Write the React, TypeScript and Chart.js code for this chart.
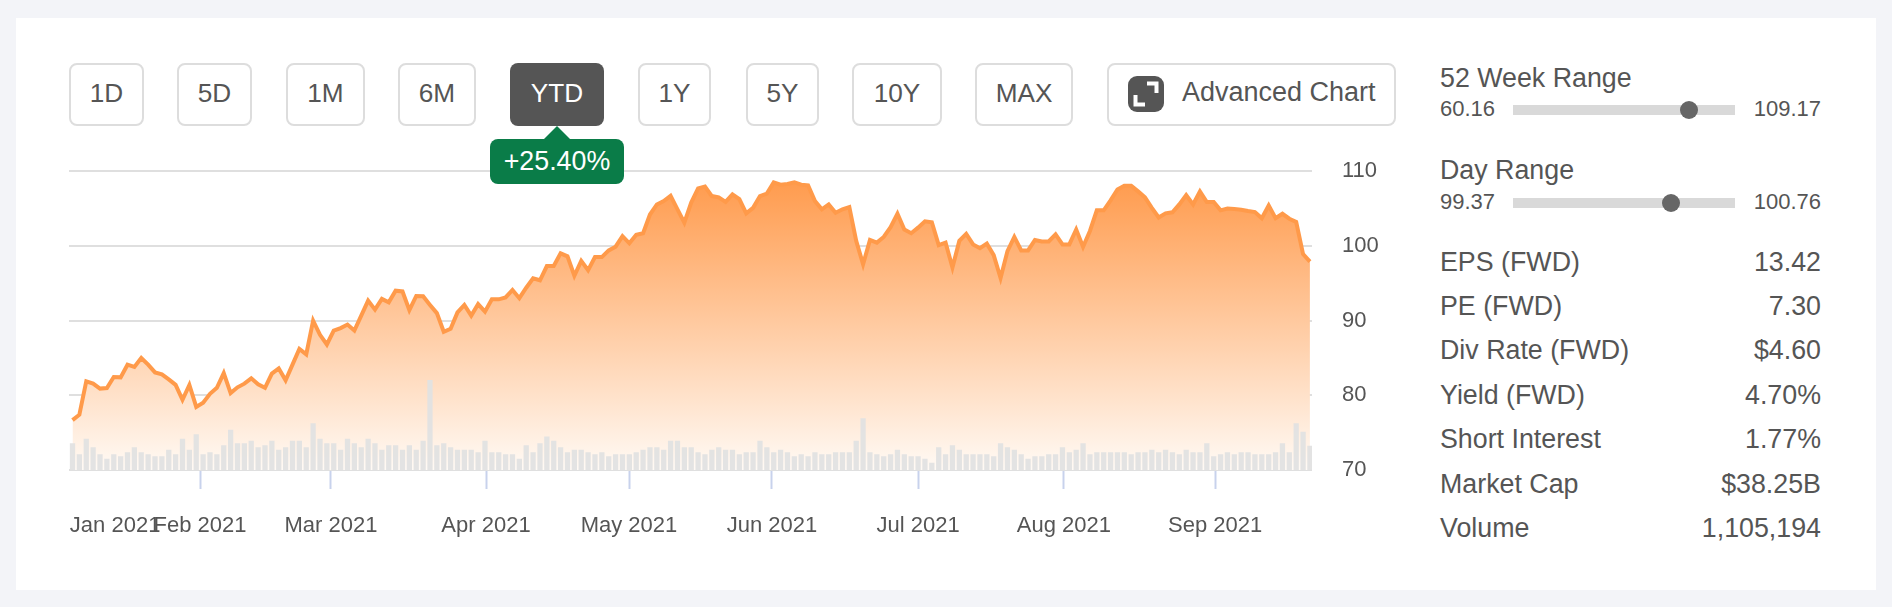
import React, { useEffect, useRef } from "react";
import { Chart, registerables } from "chart.js";

Chart.register(...registerables);

const prices = [
  76.67, 77.4, 81.87, 81.56, 80.9, 80.98, 82.45, 82.4, 84.1, 83.8, 85.0, 84.1, 83.07, 82.8, 82.13, 81.4, 79.4, 81.38, 78.45, 79.0,
  80.2, 81.0, 82.98, 80.3, 81.07, 81.56, 82.27, 81.47, 81.0, 82.9, 83.6, 82.0, 84.1, 86.2, 85.47, 90.0, 88.1, 86.8, 88.67, 89.0,
  89.47, 88.67, 90.67, 92.67, 91.47,
  92.9, 92.45, 94.0, 93.9, 91.4, 93.3, 93.25, 92.1, 91.0, 88.5, 88.9, 91.1, 92.1, 90.67, 92.2, 91.2, 92.85, 92.85, 93.1, 94.1,
  93.0, 94.4, 95.65, 95.4, 97.3, 97.3, 99.0, 98.6, 96.0, 98.0, 96.75, 98.5, 98.5, 99.4, 99.9, 101.3, 100.35, 101.5, 101.7, 104.2,
  105.55, 106.0, 106.7, 104.9, 103.1, 105.8, 107.7,
  107.95, 106.67, 106.5, 105.9, 106.9, 106.27, 104.36, 105.1, 106.67, 107.0, 108.5, 108.2, 108.3, 108.5, 108.2, 108.1, 106.0, 104.9, 105.55,
  104.44, 104.9, 105.2, 100.67, 97.55, 100.8, 100.44, 101.2, 102.5, 104.3, 102.2, 101.7, 102.44, 103.3, 103.16, 100.1, 100.44, 97.1, 100.67, 101.6,
  100.2, 99.7, 100.3, 98.76, 95.7,
  99.3, 101.2, 99.4, 99.4, 100.8, 100.6, 100.6, 101.55, 100.2, 100.2, 102.2, 99.87, 102.0, 104.76, 104.76, 106.1, 107.55, 108.04, 108.04, 107.3,
  106.5, 105.1, 103.8, 104.36, 104.5, 105.55, 106.8, 105.55, 107.3, 105.87, 105.87, 104.76, 105.0, 104.93, 104.84, 104.67, 104.53, 103.7, 105.4, 103.7,
  104.3, 103.64, 103.2, 98.9, 97.9,
];

const volumes = [
  1.33, 0.78, 1.55, 1.12, 0.78, 0.55, 0.78, 0.67, 0.88, 1.12, 0.88, 0.78, 0.67, 0.67, 1.0, 0.78, 1.55, 1.0, 1.78, 0.78,
  0.88, 0.78, 1.22, 2.0, 1.33, 1.33, 1.45, 1.12, 1.22, 1.45, 1.0, 1.12, 1.45, 1.45, 1.12, 2.33, 1.55, 1.33, 1.33, 1.0,
  1.55, 1.33, 1.12, 1.55, 1.33, 1.0, 1.22, 1.22, 1.0, 1.22, 1.0, 1.45, 4.5, 1.22, 1.33, 1.12, 1.0, 1.0, 1.0, 0.88,
  1.45, 0.88, 0.88, 0.78, 0.78, 0.55, 1.22, 0.88, 1.33, 1.67, 1.45, 1.12, 0.88, 1.0, 1.0, 0.88, 0.78,
  0.88, 0.67, 0.78, 0.78, 0.78, 0.88, 1.0, 1.12, 1.12, 1.0, 1.45, 1.45, 1.12, 1.12, 0.88, 0.78, 1.0, 1.12, 1.0, 1.0,
  0.78, 0.88, 0.88, 1.45, 1.12, 0.88, 1.0, 0.88, 0.67, 0.78, 0.67, 0.88, 0.78, 0.78, 0.88, 0.88, 0.88, 1.45, 2.58, 0.88,
  0.78, 0.67, 0.78, 1.0, 0.78, 0.67, 0.67, 0.55, 0.35, 1.12, 0.78, 1.22, 1.0, 0.78, 0.78, 0.78, 0.78, 0.67, 1.33, 1.12,
  1.0, 0.78, 0.55, 0.67, 0.67, 0.78, 0.78, 1.12, 0.88, 1.0, 1.33, 0.78, 0.88, 0.88, 0.88, 0.88, 0.88, 0.78, 0.88,
  0.88, 1.0, 0.88, 1.0, 0.88, 0.78, 1.0, 0.88, 0.88, 1.33, 0.67, 0.78, 0.88, 0.78, 0.88, 0.88, 0.78, 0.78, 0.78, 0.88,
  1.33, 0.88, 2.33, 1.9, 1.2,
];

const monthLabels = ["Jan 2021", "Feb 2021", "Mar 2021", "Apr 2021", "May 2021", "Jun 2021", "Jul 2021", "Aug 2021", "Sep 2021"];
const monthSessions = [6.2, 18.55, 37.6, 60.15, 80.95, 101.75, 123, 144.2, 166.2];
const priceTicks = [70, 80, 90, 100, 110];

const rangeButtons = [
  { label: "1D", x: 69, w: 75 },
  { label: "5D", x: 177, w: 75 },
  { label: "1M", x: 286, w: 79 },
  { label: "6M", x: 398, w: 78 },
  { label: "YTD", x: 510, w: 94, active: true },
  { label: "1Y", x: 638, w: 73 },
  { label: "5Y", x: 746, w: 73 },
  { label: "10Y", x: 852, w: 90 },
  { label: "MAX", x: 975, w: 98 },
];

const statRows = [
  ["EPS (FWD)", "13.42", 262],
  ["PE (FWD)", "7.30", 306],
  ["Div Rate (FWD)", "$4.60", 350],
  ["Yield (FWD)", "4.70%", 395],
  ["Short Interest", "1.77%", 439],
  ["Market Cap", "$38.25B", 484],
  ["Volume", "1,105,194", 528],
] as const;

const FONT = '"Liberation Sans", Arial, sans-serif';
const TEXT = "#555555";

const abs = (l: number, t: number, extra: React.CSSProperties = {}): React.CSSProperties => ({
  position: "absolute",
  left: l,
  top: t,
  ...extra,
});

function Line({ l, cy, size, children, right }: { l?: number; cy: number; size: number; children: React.ReactNode; right?: number }) {
  const style: React.CSSProperties = {
    position: "absolute",
    top: cy - 20,
    height: 40,
    lineHeight: "40px",
    fontSize: size,
    color: TEXT,
    whiteSpace: "nowrap",
  };
  if (l !== undefined) style.left = l;
  if (right !== undefined) style.right = 1892 - right;
  return <div style={style}>{children}</div>;
}

function Slider({ cy, knob }: { cy: number; knob: number }) {
  return (
    <>
      <div style={abs(1513, cy - 5, { width: 222, height: 10, background: "#d9d9d9" })} />
      <div style={abs(knob - 9, cy - 9, { width: 18, height: 18, borderRadius: 9, background: "#666666" })} />
    </>
  );
}

export default function App() {
  const ref = useRef<HTMLCanvasElement | null>(null);

  useEffect(() => {
    if (!ref.current) return;
    const indices = prices.map((_, i) => i);
    const chart = new Chart(ref.current, {
      type: "line",
      data: {
        datasets: [
          {
            type: "line",
            order: 2,
            data: indices.map((i) => ({ x: i, y: prices[i] })),
            borderColor: "#ff9a4a",
            borderWidth: 4,
            borderJoinStyle: "miter",
            pointRadius: 0,
            tension: 0,
            fill: "start",
            backgroundColor: (ctx: any) => {
              const area = ctx.chart.chartArea;
              if (!area) return "#ffc69a";
              const g = ctx.chart.ctx.createLinearGradient(0, area.top, 0, area.bottom);
              g.addColorStop(0, "rgb(255,152,72)");
              g.addColorStop(1, "rgb(255,250,245)");
              return g;
            },
            yAxisID: "y",
          },
          {
            type: "bar",
            order: 1,
            data: indices.map((i) => ({ x: i, y: volumes[i] })),
            backgroundColor: "rgba(226,226,226,0.95)",
            barThickness: 4.6,
            yAxisID: "vol",
          },
        ],
      } as any,
      options: {
        animation: false,
        responsive: false,
        devicePixelRatio: 1,
        layout: { padding: { left: 29, top: 20, right: 0, bottom: 0 } },
        plugins: { legend: { display: false }, tooltip: { enabled: false } },
        scales: {
          x: {
            type: "linear",
            offset: false,
            min: -0.51,
            max: 180.3,
            border: { display: false },
            grid: {
              offset: false,
              drawOnChartArea: false,
              drawTicks: true,
              tickLength: 19,
              tickWidth: 2,
              tickColor: (c: any) => (c.index === 0 ? "rgba(0,0,0,0)" : "#c8d2ec"),
            },
            afterBuildTicks: (s: any) => {
              s.ticks = monthSessions.map((v) => ({ value: v }));
            },
            ticks: {
              autoSkip: false,
              maxRotation: 0,
              minRotation: 0,
              padding: 24,
              color: TEXT,
              font: { family: FONT, size: 22 },
              callback: (v: any) => monthLabels[monthSessions.indexOf(Number(v))] ?? "",
            },
            afterFit: (s: any) => {
              s.height = 80;
            },
          },
          y: {
            position: "right",
            min: 70,
            max: 110,
            border: { display: false },
            grid: { color: "#dfdfdf", lineWidth: 2, drawTicks: false },
            afterBuildTicks: (s: any) => {
              s.ticks = priceTicks.map((v) => ({ value: v }));
            },
            ticks: {
              padding: 30,
              color: TEXT,
              font: { family: FONT, size: 22 },
            },
            afterFit: (s: any) => {
              s.width = 68;
            },
          },
          vol: {
            display: false,
            position: "left",
            min: 0,
            max: 15,
          },
        },
      } as any,
    });
    return () => chart.destroy();
  }, []);

  return (
    <div style={abs(0, 0, { width: 1892, height: 607, background: "#f3f4f8", overflow: "hidden", fontFamily: FONT })}>
      <div style={abs(16, 18, { width: 1860, height: 572, background: "#ffffff" })} />
      <canvas ref={ref} width={1340} height={422} style={abs(40, 128, { width: 1340, height: 422 })} />

      {rangeButtons.map((b) => (
        <div
          key={b.label}
          style={abs(b.x, 63, {
            width: b.w,
            height: 63,
            boxSizing: "border-box",
            border: b.active ? "none" : "2px solid #dddddd",
            borderRadius: 8,
            background: b.active ? "#555555" : "#ffffff",
            color: b.active ? "#ffffff" : TEXT,
            fontSize: 26.2,
            lineHeight: b.active ? "61px" : "57px",
            textAlign: "center",
          })}
        >
          {b.label}
        </div>
      ))}

      <div style={abs(1107, 63, { width: 289, height: 63, boxSizing: "border-box", border: "2px solid #dddddd", borderRadius: 8, background: "#fff" })} />
      <svg style={abs(1128, 76)} width={36} height={36} viewBox="0 0 36 36">
        <rect width={36} height={36} rx={9} fill="#555555" />
        <path d="M19 7.5h9.5V17M17 28.5H7.5V19" fill="none" stroke="#ffffff" strokeWidth={4} />
      </svg>
      <Line l={1182} cy={92} size={27}>Advanced Chart</Line>

      <svg style={abs(543, 125)} width={28} height={15} viewBox="0 0 28 15">
        <path d="M0 15L14 1L28 15Z" fill="#0a7c48" />
      </svg>
      <div
        style={abs(490, 139, {
          width: 134,
          height: 45,
          borderRadius: 8,
          background: "#0a7c48",
          color: "#ffffff",
          fontSize: 26.8,
          lineHeight: "44px",
          textAlign: "center",
        })}
      >
        +25.40%
      </div>

      <Line l={1440} cy={78} size={26.8}>52 Week Range</Line>
      <Line l={1440} cy={109} size={22}>60.16</Line>
      <Slider cy={110} knob={1689} />
      <Line right={1821} cy={109} size={22}>109.17</Line>

      <Line l={1440} cy={170} size={26.8}>Day Range</Line>
      <Line l={1440} cy={202} size={22}>99.37</Line>
      <Slider cy={203} knob={1671} />
      <Line right={1821} cy={202} size={22}>100.76</Line>

      {statRows.map(([name, value, cy]) => (
        <React.Fragment key={name}>
          <Line l={1440} cy={cy} size={26.8}>{name}</Line>
          <Line right={1821} cy={cy} size={26.8}>{value}</Line>
        </React.Fragment>
      ))}
    </div>
  );
}
